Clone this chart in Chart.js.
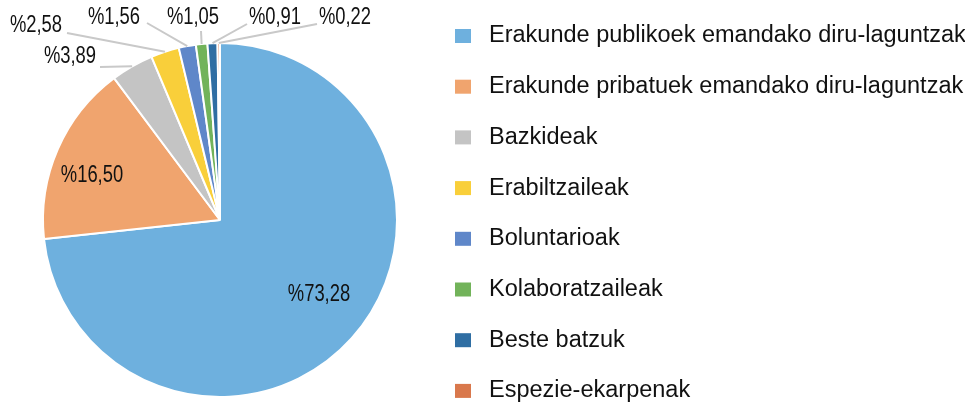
<!DOCTYPE html>
<html>
<head>
<meta charset="utf-8">
<script src="https://cdn.jsdelivr.net/npm/chart.js@4.4.1/dist/chart.umd.min.js"></script>
<style>
    html, body { margin: 0; padding: 0; background: #ffffff; }
    #finance_pie { display: block; }
</style>
</head>
<body>
<canvas id="finance_pie" width="965" height="410"></canvas>
<script>
let arrSource = [
    "Erakunde publikoek emandako diru-laguntzak",
    "Erakunde pribatuek emandako diru-laguntzak",
    "Bazkideak",
    "Erabiltzaileak",
    "Boluntarioak",
    "Kolaboratzaileak",
    "Beste batzuk",
    "Espezie-ekarpenak"
];
let arrPercent = [73.28, 16.50, 3.89, 2.58, 1.56, 1.05, 0.91, 0.22];
let arrColors = ["#6eb0de", "#f0a46e", "#c4c4c4", "#f9cf3a", "#5f87c9", "#72b35a", "#2f6ea3", "#d9784c"];

// where each percent label sits (text centre), and where its leader line starts
let labelSpots = [
    {x: 319, y: 295},
    {x: 92, y: 176},
    {x: 70, y: 57, lx: 100, ly: 67},
    {x: 36, y: 26, lx: 67, ly: 33},
    {x: 114, y: 18, lx: 147, ly: 23},
    {x: 193, y: 18, lx: 201, ly: 31},
    {x: 275, y: 18, lx: 247, ly: 24},
    {x: 345, y: 18, lx: 317, ly: 24}
];

function percentText(v) {
    return "%" + v.toFixed(2).replace(".", ",");
}

let pieLabels = {
    id: "pieLabels",
    afterDatasetsDraw(chart) {
        let ctx = chart.ctx;
        let meta = chart.getDatasetMeta(0);
        meta.data.forEach(function (arc, i) {
            let spot = labelSpots[i];
            ctx.save();
            if (spot.lx !== undefined) {
                // leader line to the middle of the slice edge
                let mid = (arc.startAngle + arc.endAngle) / 2;
                let ex = arc.x + Math.cos(mid) * arc.outerRadius;
                let ey = arc.y + Math.sin(mid) * arc.outerRadius;
                ctx.strokeStyle = "#c9c9c9";
                ctx.lineWidth = 2;
                ctx.beginPath();
                ctx.moveTo(spot.lx, spot.ly);
                ctx.lineTo(ex, ey);
                ctx.stroke();
            }
            // the labels are in a narrow face, squeeze a normal one
            ctx.translate(spot.x, spot.y);
            ctx.scale(0.8, 1);
            ctx.fillStyle = "#111111";
            ctx.font = "23px 'Liberation Sans', Arial, sans-serif";
            ctx.textAlign = "center";
            ctx.textBaseline = "middle";
            ctx.fillText(percentText(chart.data.datasets[0].data[i]), 0, 0);
            ctx.restore();
        });
    }
};

let sideLegend = {
    id: "sideLegend",
    afterDraw(chart) {
        let ctx = chart.ctx;
        ctx.save();
        chart.data.labels.forEach(function (txt, i) {
            let y = 36 + i * 50.7;
            ctx.fillStyle = chart.data.datasets[0].backgroundColor[i];
            ctx.fillRect(455, y - 7, 16, 14);
            ctx.fillStyle = "#111111";
            ctx.font = "23.5px 'Liberation Sans', Arial, sans-serif";
            ctx.textAlign = "left";
            ctx.textBaseline = "middle";
            ctx.fillText(txt, 489, y);
        });
        ctx.restore();
    }
};

new Chart("finance_pie", {
    type: "pie",
    data: {
        labels: arrSource,
        datasets: [{
            data: arrPercent,
            backgroundColor: arrColors,
            borderColor: "#ffffff",
            borderWidth: 2
        }]
    },
    options: {
        responsive: false,
        animation: false,
        devicePixelRatio: 1,
        layout: {
            padding: {left: 42, top: 42, right: 567, bottom: 12}
        },
        plugins: {
            legend: {display: false},
            tooltip: {enabled: false},
            title: {display: false}
        }
    },
    plugins: [pieLabels, sideLegend]
});
</script>
</body>
</html>
